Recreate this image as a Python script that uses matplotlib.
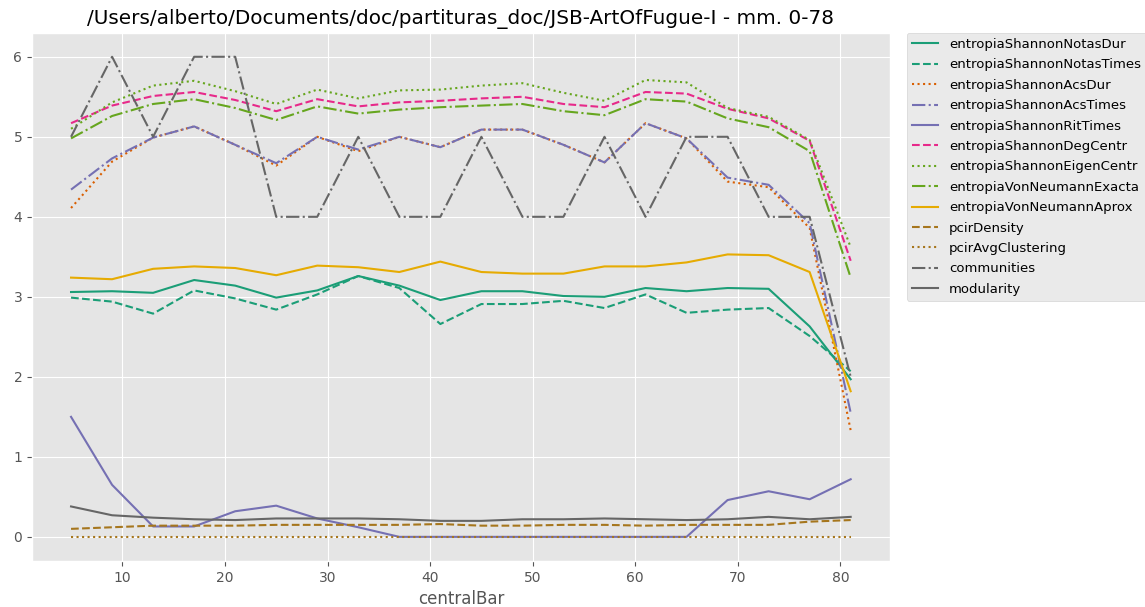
import matplotlib
matplotlib.use("Agg")
import matplotlib.pyplot as plt

plt.style.use('ggplot')

# compases centrales
central_bar = [5, 9, 13, 17, 21, 25, 29, 33, 37, 41, 45, 49, 53, 57, 61, 65, 69, 73, 77, 81]

entropiaShannonNotasDur = [3.06, 3.07, 3.05, 3.21, 3.14, 2.99, 3.08, 3.26, 3.14, 2.96,
                           3.07, 3.07, 3.01, 3.00, 3.11, 3.07, 3.11, 3.10, 2.63, 1.97]
entropiaShannonNotasTimes = [2.99, 2.94, 2.79, 3.08, 2.98, 2.84, 3.03, 3.26, 3.11, 2.66,
                             2.91, 2.91, 2.95, 2.86, 3.03, 2.80, 2.84, 2.86, 2.51, 2.07]
entropiaShannonAcsDur = [4.11, 4.69, 4.99, 5.13, 4.90, 4.64, 5.00, 4.82, 5.00, 4.87,
                         5.09, 5.09, 4.90, 4.68, 5.17, 4.98, 4.44, 4.37, 3.86, 1.33]
entropiaShannonAcsTimes = [4.34, 4.73, 4.99, 5.13, 4.90, 4.67, 5.00, 4.84, 5.00, 4.87,
                           5.09, 5.09, 4.90, 4.68, 5.17, 4.98, 4.49, 4.40, 3.92, 1.55]
entropiaShannonRitTimes = [1.50, 0.65, 0.13, 0.13, 0.32, 0.39, 0.23, 0.12, 0.0, 0.0,
                           0.0, 0.0, 0.0, 0.0, 0.0, 0.0, 0.46, 0.57, 0.47, 0.72]
entropiaShannonDegCentr = [5.17, 5.39, 5.51, 5.56, 5.46, 5.32, 5.47, 5.38, 5.43, 5.45,
                           5.48, 5.50, 5.41, 5.37, 5.56, 5.54, 5.35, 5.23, 4.95, 3.45]
entropiaShannonEigenCentr = [5.10, 5.43, 5.64, 5.70, 5.57, 5.41, 5.59, 5.48, 5.58, 5.59,
                             5.64, 5.67, 5.55, 5.45, 5.71, 5.68, 5.36, 5.25, 4.96, 3.62]
entropiaVonNeumannExacta = [4.98, 5.26, 5.41, 5.47, 5.36, 5.21, 5.38, 5.29, 5.34, 5.37,
                            5.39, 5.41, 5.32, 5.27, 5.47, 5.44, 5.23, 5.12, 4.82, 3.24]
entropiaVonNeumannAprox = [3.24, 3.22, 3.35, 3.38, 3.36, 3.27, 3.39, 3.37, 3.31, 3.44,
                           3.31, 3.29, 3.29, 3.38, 3.38, 3.43, 3.53, 3.52, 3.31, 1.82]
pcirDensity = [0.10, 0.12, 0.14, 0.14, 0.14, 0.15, 0.15, 0.15, 0.15, 0.16,
               0.14, 0.14, 0.15, 0.15, 0.14, 0.15, 0.15, 0.15, 0.19, 0.21]
pcirAvgClustering = [0.0] * 20
communities = [5, 6, 5, 6, 6, 4, 4, 5, 4, 4, 5, 4, 4, 5, 4, 5, 5, 4, 4, 2]
modularity = [0.38, 0.27, 0.24, 0.22, 0.21, 0.23, 0.23, 0.23, 0.22, 0.20,
              0.20, 0.22, 0.22, 0.23, 0.22, 0.21, 0.22, 0.25, 0.22, 0.25]

series_names = ['entropiaShannonNotasDur', 'entropiaShannonNotasTimes', 'entropiaShannonAcsDur',
                'entropiaShannonAcsTimes', 'entropiaShannonRitTimes', 'entropiaShannonDegCentr',
                'entropiaShannonEigenCentr', 'entropiaVonNeumannExacta', 'entropiaVonNeumannAprox',
                'pcirDensity', 'pcirAvgClustering', 'communities', 'modularity']
series_values = [entropiaShannonNotasDur, entropiaShannonNotasTimes, entropiaShannonAcsDur,
                 entropiaShannonAcsTimes, entropiaShannonRitTimes, entropiaShannonDegCentr,
                 entropiaShannonEigenCentr, entropiaVonNeumannExacta, entropiaVonNeumannAprox,
                 pcirDensity, pcirAvgClustering, communities, modularity]

# colores Dark2 y estilos de linea
colors = ['#1b9e77', '#1b9e77', '#d95f02', '#7570b3', '#7570b3', '#e7298a', '#66a61e',
          '#66a61e', '#e6ab02', '#a6761d', '#a6761d', '#666666', '#666666']
styles = ['-', '--', ':', '-.', '-', '--', ':', '-.', '-', '--', ':', '-.', '-']

fig = plt.figure(figsize=(11.45, 6.07), dpi=100)
ax = fig.add_axes([0.028, 0.076, 0.749, 0.870])

for name, vals, c, ls in zip(series_names, series_values, colors, styles):
    ax.plot(central_bar, vals, color=c, linestyle=ls, linewidth=1.5, label=name)

ax.set_title('/Users/alberto/Documents/doc/partituras_doc/JSB-ArtOfFugue-I - mm. 0-78')
ax.set_xlabel('centralBar')
ax.legend(loc='upper left', bbox_to_anchor=(1.02, 1), borderaxespad=0,
          fontsize=9.5, labelspacing=0.56)

plt.savefig("out.png", dpi=100)
